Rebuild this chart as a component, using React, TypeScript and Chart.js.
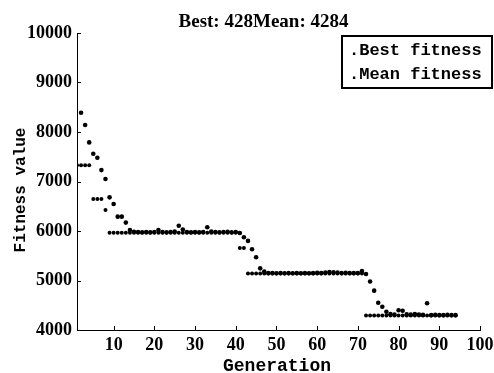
import React, { useEffect, useRef } from "react";
import { Chart, registerables } from "chart.js";

Chart.register(...registerables);

const generations = [
  1, 2, 3, 4, 5, 6, 7, 8, 9, 10, 11, 12, 13, 14, 15, 16, 17, 18, 19, 20,
  21, 22, 23, 24, 25, 26, 27, 28, 29, 30, 31, 32, 33, 34, 35, 36, 37, 38, 39, 40,
  41, 42, 43, 44, 45, 46, 47, 48, 49, 50, 51, 52, 53, 54, 55, 56, 57, 58, 59, 60,
  61, 62, 63, 64, 65, 66, 67, 68, 69, 70, 71, 72, 73, 74, 75, 76, 77, 78, 79, 80,
  81, 82, 83, 84, 85, 86, 87, 88, 89, 90, 91, 92, 93, 94,
];

const bestFitness = [
  7330, 7330, 7330, 7330, 6645, 6645, 6645, 6425, 5965, 5965,
  5965, 5965, 5965, 5965, 5965, 5965, 5965, 5965, 5965, 5965,
  5965, 5965, 5965, 5965, 5965, 5965, 5965, 5965, 5965, 5965,
  5965, 5965, 5965, 5965, 5965, 5965, 5965, 5965, 5965, 5965,
  5655, 5655, 5140, 5140, 5140, 5140, 5140, 5140, 5140, 5140,
  5140, 5140, 5140, 5140, 5140, 5140, 5140, 5140, 5140, 5140,
  5140, 5140, 5140, 5140, 5140, 5140, 5140, 5140, 5140, 5140,
  5140, 4295, 4295, 4295, 4295, 4295, 4295, 4295, 4295, 4295,
  4295, 4295, 4295, 4295, 4295, 4295, 4295, 4295, 4295, 4295,
  4295, 4295, 4295, 4295,
];

const meanFitness: (number | null)[] = [
  null, 8390, 8140, 7790, 7560, 7480, 7230, 7050, 6680, 6545,
  6290, 6290, 6170, 6020, 5985, 5980, 5975, 5980, 5975, 5980,
  6020, 5980, 5975, 5980, 5990, 6105, 6030, 5980, 5975, 5980,
  5975, 5980, 6075, 5990, 5980, 5975, 5980, 5985, 5975, 5980,
  5960, 5875, 5800, 5630, 5470, 5245, 5180, 5150, 5150, 5145,
  5150, 5145, 5150, 5145, 5150, 5145, 5150, 5145, 5150, 5155,
  5150, 5160, 5170, 5165, 5160, 5150, 5155, 5150, 5150, 5150,
  5190, 5130, 4980, 4795, 4550, 4470, 4370, 4320, 4310, 4400,
  4390, 4315, 4310, 4320, 4310, 4305, 4540, 4300, 4305, 4300,
  4300, 4305, 4300, 4300,
];

const xTicks = [10, 20, 30, 40, 50, 60, 70, 80, 90, 100];
const yTicks = [4000, 5000, 6000, 7000, 8000, 9000, 10000];
const titleText = "Best: 428Mean: 4284";
const legendLabels = [".Best fitness", ".Mean fitness"];
const xTitle = "Generation";
const yTitle = "Fitness value";

const SERIF = '"Liberation Serif", "Times New Roman", serif';
const MONO = '"Liberation Mono", "DejaVu Sans Mono", monospace';

export default function App() {
  const ref = useRef<HTMLCanvasElement>(null);

  useEffect(() => {
    const canvas = ref.current;
    if (!canvas) return;

    const textPlugin = {
      id: "texts",
      afterDraw(chart: any) {
        const ctx = chart.ctx as CanvasRenderingContext2D;
        const { left, bottom } = chart.chartArea;
        const xs = chart.scales.x;
        const ys = chart.scales.y;
        ctx.save();
        ctx.fillStyle = "#000";
        ctx.strokeStyle = "#000";

        // inward tick marks
        ctx.lineWidth = 1;
        ctx.beginPath();
        for (const v of yTicks) {
          const p = Math.round(ys.getPixelForValue(v)) + 0.5;
          ctx.moveTo(left, p);
          ctx.lineTo(left + 4, p);
        }
        for (const v of xTicks) {
          const p = Math.round(xs.getPixelForValue(v)) + 0.5;
          ctx.moveTo(p, bottom);
          ctx.lineTo(p, bottom - 4);
        }
        ctx.stroke();

        // title
        ctx.font = `bold 19px ${SERIF}`;
        ctx.textAlign = "center";
        ctx.textBaseline = "alphabetic";
        ctx.fillText(titleText, 263.5, 27);

        // legend box
        ctx.lineWidth = 2;
        ctx.strokeRect(342, 36, 150, 52);
        ctx.font = `bold 17px ${MONO}`;
        ctx.textAlign = "left";
        ctx.fillText(legendLabels[0], 349, 55);
        ctx.fillText(legendLabels[1], 349, 79);

        // x title
        ctx.font = `bold 18px ${MONO}`;
        ctx.textAlign = "center";
        ctx.fillText(xTitle, 277, 371);

        // y title
        ctx.save();
        ctx.translate(25, 190);
        ctx.rotate(-Math.PI / 2);
        ctx.font = `bold 16px ${MONO}`;
        ctx.textAlign = "center";
        ctx.fillText(yTitle, 0, 0);
        ctx.restore();

        ctx.restore();
      },
    };

    const bestData = generations.map((g, i) => ({ x: g, y: bestFitness[i] }));
    const meanData = generations
      .map((g, i) => ({ x: g, y: meanFitness[i] }))
      .filter((p) => p.y !== null);

    const chart = new Chart(canvas, {
      type: "scatter",
      data: {
        datasets: [
          {
            label: "Best fitness",
            data: bestData as any,
            pointRadius: 2,
            pointBackgroundColor: "#000",
            pointBorderColor: "#000",
            pointBorderWidth: 0,
            showLine: false,
          },
          {
            label: "Mean fitness",
            data: meanData as any,
            pointRadius: 2.3,
            pointBackgroundColor: "#000",
            pointBorderColor: "#000",
            pointBorderWidth: 0,
            showLine: false,
          },
        ],
      },
      options: {
        responsive: false,
        animation: false,
        devicePixelRatio: 1,
        layout: { padding: { left: 0, right: 14, top: 33, bottom: 0 } },
        plugins: {
          legend: { display: false },
          title: { display: false },
          tooltip: { enabled: false },
        },
        scales: {
          x: {
            type: "linear",
            min: 1,
            max: 100,
            afterBuildTicks: (s: any) => {
              s.ticks = xTicks.map((v) => ({ value: v }));
            },
            afterFit: (s: any) => {
              s.height = 43;
              s.paddingLeft = 0;
              s.paddingRight = 0;
            },
            grid: { display: false, drawTicks: false },
            border: { display: true, color: "#000", width: 1 },
            ticks: {
              color: "#000",
              font: { family: SERIF, size: 18, weight: "bold" },
              padding: 5,
              maxRotation: 0,
              autoSkip: false,
              callback: (v: any) => String(v),
            },
          },
          y: {
            type: "linear",
            min: 4000,
            max: 10000,
            afterBuildTicks: (s: any) => {
              s.ticks = yTicks.map((v) => ({ value: v }));
            },
            afterFit: (s: any) => {
              s.width = 77;
              s.paddingTop = 0;
              s.paddingBottom = 0;
            },
            grid: { display: false, drawTicks: false },
            border: { display: true, color: "#000", width: 1 },
            ticks: {
              color: "#000",
              font: { family: SERIF, size: 18, weight: "bold" },
              padding: 5,
              autoSkip: false,
              callback: (v: any) => String(v),
            },
          },
        },
      },
      plugins: [textPlugin],
    });

    return () => chart.destroy();
  }, []);

  return (
    <div
      style={{
        position: "fixed",
        left: 0,
        top: 0,
        width: 494,
        height: 373,
        background: "#fff",
      }}
    >
      <canvas ref={ref} width={494} height={373} style={{ display: "block" }} />
    </div>
  );
}
